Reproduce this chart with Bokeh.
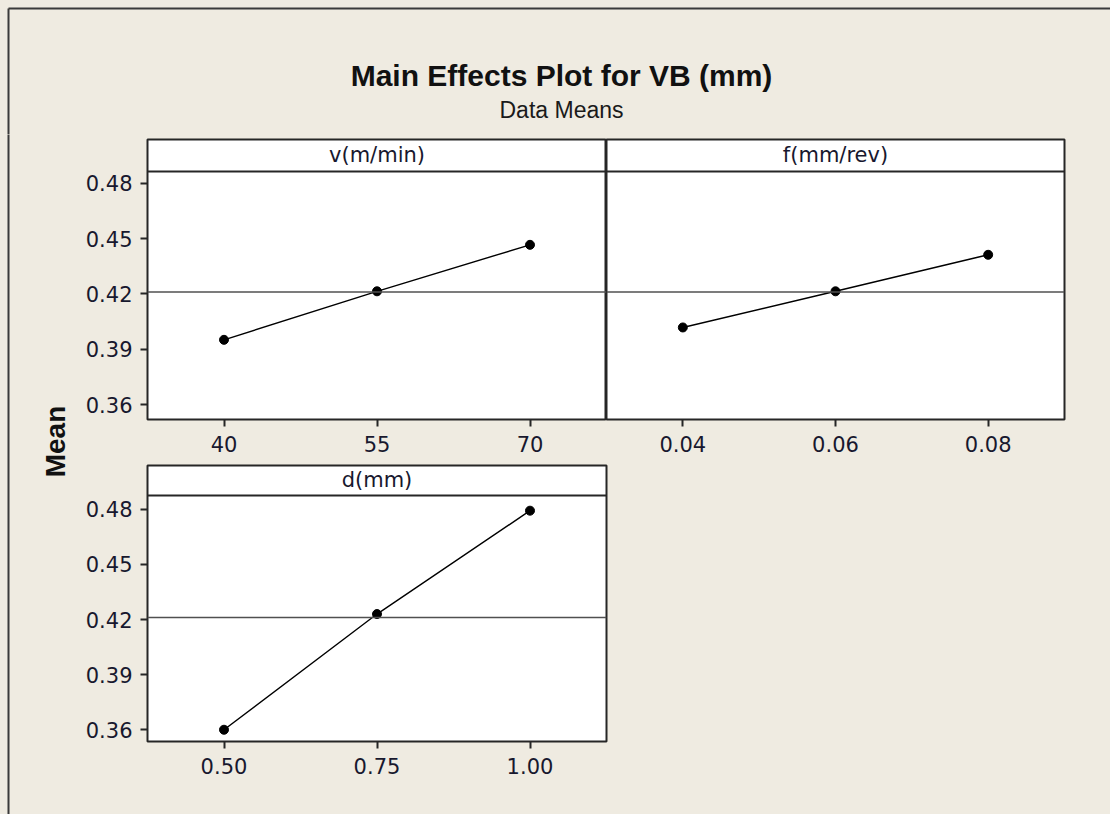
import numpy as np
from bokeh.plotting import figure
from bokeh.models import Range1d, Span, Label, FixedTicker, NumeralTickFormatter
from bokeh.layouts import column, row
from bokeh.embed import file_html
from bokeh.resources import INLINE

# ---- data -------------------------------------------------------------
TITLE = "Main Effects Plot for VB (mm)"
SUBTITLE = "Data Means"
Y_LABEL = "Mean"

factor_names = ["v(m/min)", "f(mm/rev)", "d(mm)"]
v_levels = [40, 55, 70]
v_means = [0.3951, 0.4214, 0.4466]
f_levels = [0.04, 0.06, 0.08]
f_means = [0.4018, 0.4214, 0.4412]
d_levels = [0.50, 0.75, 1.00]
d_means = [0.3600, 0.4230, 0.4793]
y_ticks = [0.36, 0.39, 0.42, 0.45, 0.48]
x_formats = ["0", "0.00", "0.00"]

# overall mean of the response (reference line in every panel)
grand_mean = float(np.mean(v_means + f_means + d_means))

# ---- styling ----------------------------------------------------------
BG = "#EFEBE1"
FRAME = "#262626"
TEXT = "#18182e"
TICK_FONT = "DejaVu Sans"
BOX_STYLE = {"background-color": BG}


def effect_panel(name, levels, means, fmt, width, height, y_lo, y_hdr, y_hi,
                 left, right, top, bottom, show_y):
    pad = 0.25 * (max(levels) - min(levels))
    p = figure(width=width, height=height,
               x_range=Range1d(min(levels) - pad, max(levels) + pad),
               y_range=Range1d(y_lo, y_hi),
               output_backend="svg", toolbar_location=None, title=None,
               y_axis_location="left" if show_y else None,
               min_border_left=left, min_border_right=right,
               min_border_top=top, min_border_bottom=bottom,
               styles=BOX_STYLE)
    p.background_fill_color = "white"
    p.border_fill_color = BG
    p.outline_line_color = FRAME
    p.outline_line_width = 2
    p.xgrid.visible = False
    p.ygrid.visible = False

    # header strip separator and grand-mean reference line
    p.add_layout(Span(location=y_hdr, dimension="width",
                      line_color=FRAME, line_width=2))
    p.add_layout(Span(location=grand_mean, dimension="width",
                      line_color="#505050", line_width=1.5))

    p.line(levels, means, line_color="black", line_width=1.4)
    p.scatter(levels, means, size=9, color="black")

    p.add_layout(Label(x=(min(levels) + max(levels)) / 2,
                       y=(y_hdr + y_hi) / 2, text=name,
                       text_align="center", text_baseline="middle",
                       text_font=TICK_FONT, text_font_size="21px",
                       text_color=TEXT))

    xa = p.xaxis[0]
    xa.ticker = FixedTicker(ticks=levels)
    xa.formatter = NumeralTickFormatter(format=fmt)
    xa.axis_line_color = None
    xa.major_tick_in = 0
    xa.major_tick_out = 7
    xa.major_tick_line_width = 2
    xa.major_tick_line_color = FRAME
    xa.minor_tick_line_color = None
    xa.major_label_standoff = 9
    xa.major_label_text_font = TICK_FONT
    xa.major_label_text_font_size = "21px"
    xa.major_label_text_color = TEXT

    if show_y:
        ya = p.yaxis[0]
        ya.ticker = FixedTicker(ticks=y_ticks)
        ya.formatter = NumeralTickFormatter(format="0.00")
        ya.axis_line_color = None
        ya.major_tick_in = 0
        ya.major_tick_out = 7
        ya.major_tick_line_width = 2
        ya.major_tick_line_color = FRAME
        ya.minor_tick_line_color = None
        ya.major_label_standoff = 8
        ya.major_label_text_font = TICK_FONT
        ya.major_label_text_font_size = "21px"
        ya.major_label_text_color = TEXT
    return p


# top row shares one vertical scale
top_y = (0.3519, 0.4864, 0.5037)
bot_y = (0.3536, 0.4876, 0.5039)

p_v = effect_panel(factor_names[0], v_levels, v_means, x_formats[0],
                   526, 329, *top_y, 67, 0, 5, 44, True)
p_f = effect_panel(factor_names[1], f_levels, f_means, x_formats[1],
                   504, 329, *top_y, 0, 46, 5, 44, False)
p_d = effect_panel(factor_names[2], d_levels, d_means, x_formats[2],
                   1030, 351, *bot_y, 67, 504, 2, 73, True)


def blank(width, height):
    p = figure(width=width, height=height,
               x_range=Range1d(0, width), y_range=Range1d(height, 0),
               output_backend="svg", toolbar_location=None, title=None,
               x_axis_location=None, y_axis_location=None,
               min_border=0, styles=BOX_STYLE)
    p.background_fill_color = BG
    p.border_fill_color = BG
    p.outline_line_color = None
    p.xgrid.visible = False
    p.ygrid.visible = False
    return p


# title block with the window edge lines (run past the canvas edge so the
# vertical rule joins the one in the strip below without a gap)
head = blank(1110, 134)
head.segment(x0=[8, 8], y0=[8, 8], x1=[1115, 8], y1=[8, 140],
             line_color="#3a3a3a", line_width=2)
head.add_layout(Label(x=561, y=75, text=TITLE, text_align="center",
                      text_baseline="alphabetic", text_font="Liberation Sans",
                      text_font_style="bold", text_font_size="30px",
                      text_color="#111111"))
head.add_layout(Label(x=561, y=109, text=SUBTITLE, text_align="center",
                      text_baseline="alphabetic", text_font="Liberation Sans",
                      text_font_size="23px", text_color="#1a1a1a"))

# shared y-axis title strip
side = blank(80, 680)
side.segment(x0=[8], y0=[-6], x1=[8], y1=[686],
             line_color="#3a3a3a", line_width=2)
side.add_layout(Label(x=55, y=307, text=Y_LABEL, angle=90, angle_units="deg",
                      text_align="center", text_baseline="middle",
                      text_font="Liberation Sans", text_font_style="bold",
                      text_font_size="28px", text_color="#111111"))

panels = column(row(p_v, p_f, styles=BOX_STYLE), p_d, styles=BOX_STYLE)
page = column(head, row(side, panels, styles=BOX_STYLE), styles=BOX_STYLE)

open("out.html", "w").write(file_html(page, INLINE))
